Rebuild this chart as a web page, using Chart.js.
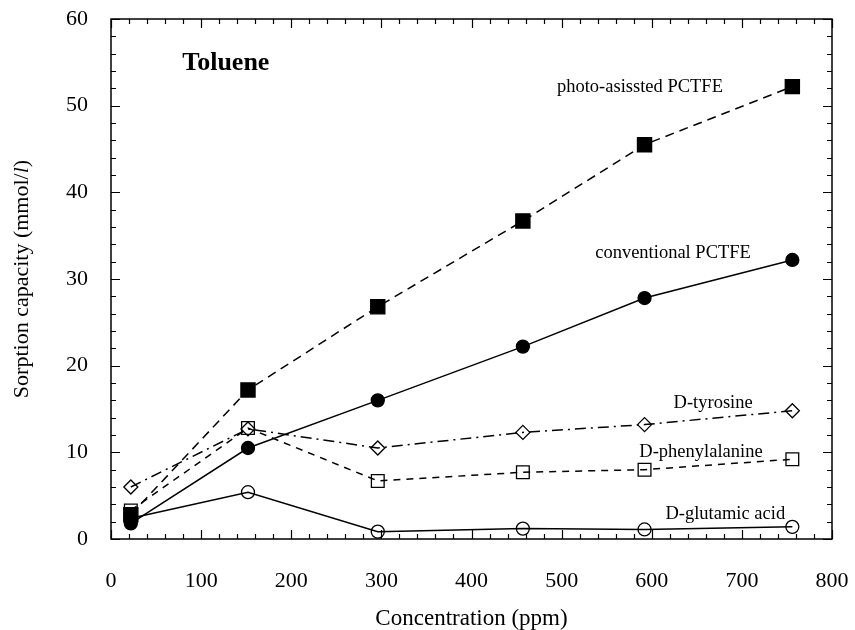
<!DOCTYPE html>
<html>
<head>
<meta charset="utf-8">
<script src="https://cdn.jsdelivr.net/npm/chart.js@4.4.1/dist/chart.umd.min.js"></script>
<style>
  html, body { margin: 0; padding: 0; background: #fff; }
  #wrap { width: 855px; height: 630px; }
</style>
</head>
<body>
<div id="wrap"><canvas id="c" width="855" height="630"></canvas></div>
<script>
// Toluene sorption capacity vs. concentration
const concentration = [22, 152, 296, 457, 592, 756];           // ppm
const photoAssisted = [2.8, 17.2, 26.8, 36.7, 45.5, 52.2];      // mmol/l
const conventional  = [1.8, 10.5, 16.0, 22.2, 27.8, 32.2];
const tyrosine      = [6.0, 12.7, 10.5, 12.3, 13.2, 14.8];
const phenylalanine = [3.3, 12.8, 6.7, 7.7, 8.0, 9.2];
const glutamic      = [2.4, 5.4, 0.85, 1.2, 1.1, 1.4];

const xTickValues = [0, 100, 200, 300, 400, 500, 600, 700, 800];
const yTickValues = [0, 10, 20, 30, 40, 50, 60];

const seriesNames = ['photo-asissted PCTFE', 'conventional PCTFE', 'D-tyrosine', 'D-phenylalanine', 'D-glutamic acid'];

const SERIF = '"Liberation Serif", "Times New Roman", serif';

function pts(ys) { return concentration.map((x, i) => ({ x: x, y: ys[i] })); }

// frame with inward major/minor ticks on all four sides
const framePlugin = {
  id: 'frame',
  afterDatasetsDraw(chart) {
    const { ctx, chartArea: a, scales: { x, y } } = chart;
    ctx.save();
    ctx.strokeStyle = '#000';
    ctx.lineWidth = 1.5;
    ctx.strokeRect(a.left, a.top, a.right - a.left, a.bottom - a.top);
    ctx.lineWidth = 1.2;
    ctx.beginPath();
    for (let v = 0; v <= 800; v += 20) {
      const px = Math.round(x.getPixelForValue(v)) + 0.5;
      const len = v % 100 === 0 ? 9 : 5;
      ctx.moveTo(px, a.bottom); ctx.lineTo(px, a.bottom - len);
      ctx.moveTo(px, a.top); ctx.lineTo(px, a.top + len);
    }
    for (let v = 0; v <= 60; v += 2) {
      const py = Math.round(y.getPixelForValue(v)) + 0.5;
      const len = v % 10 === 0 ? 9 : 5;
      ctx.moveTo(a.left, py); ctx.lineTo(a.left + len, py);
      ctx.moveTo(a.right, py); ctx.lineTo(a.right - len, py);
    }
    ctx.stroke();
    ctx.restore();
  }
};

// series names written beside their curves, plus the panel title
const labelPlugin = {
  id: 'seriesLabels',
  afterDatasetsDraw(chart) {
    const { ctx, scales: { x, y } } = chart;
    const items = [
      { t: seriesNames[0], x: 679, y: 52.15 },
      { t: seriesNames[1], x: 710, y: 33.0 },
      { t: seriesNames[2], x: 712, y: 15.7 },
      { t: seriesNames[3], x: 723, y: 10.0 },
      { t: seriesNames[4], x: 748, y: 2.9 }
    ];
    ctx.save();
    ctx.fillStyle = '#000';
    ctx.textBaseline = 'middle';
    ctx.textAlign = 'right';
    ctx.font = '18.5px ' + SERIF;
    items.forEach(it => ctx.fillText(it.t, x.getPixelForValue(it.x), y.getPixelForValue(it.y)));
    ctx.textAlign = 'left';
    ctx.font = 'bold 26px ' + SERIF;
    ctx.fillText('Toluene', x.getPixelForValue(79), y.getPixelForValue(54.9));
    ctx.restore();
  }
};

// y-axis title with italic litre symbol
const yTitlePlugin = {
  id: 'yTitle',
  afterDraw(chart) {
    const { ctx, chartArea: a } = chart;
    const parts = [
      { t: 'Sorption capacity (mmol/', f: '22px ' + SERIF },
      { t: 'l', f: 'italic 22px ' + SERIF },
      { t: ')', f: '22px ' + SERIF }
    ];
    ctx.save();
    let total = 0;
    parts.forEach(p => { ctx.font = p.f; p.w = ctx.measureText(p.t).width; total += p.w; });
    ctx.translate(22, (a.top + a.bottom) / 2);
    ctx.rotate(-Math.PI / 2);
    ctx.fillStyle = '#000';
    ctx.textBaseline = 'middle';
    ctx.textAlign = 'left';
    let cx = -total / 2;
    parts.forEach(p => { ctx.font = p.f; ctx.fillText(p.t, cx, 0); cx += p.w; });
    ctx.restore();
  }
};

const common = { showLine: true, tension: 0, borderColor: '#000', borderWidth: 1.5, pointBorderColor: '#000', pointBorderWidth: 1.3 };

new Chart(document.getElementById('c'), {
  type: 'scatter',
  data: {
    datasets: [
      Object.assign({}, common, { label: seriesNames[0], data: pts(photoAssisted), borderDash: [9, 6],
        pointStyle: 'rect', pointRadius: 10, pointBackgroundColor: '#000' }),
      Object.assign({}, common, { label: seriesNames[1], data: pts(conventional),
        pointStyle: 'circle', pointRadius: 6.5, pointBackgroundColor: '#000' }),
      Object.assign({}, common, { label: seriesNames[2], data: pts(tyrosine), borderDash: [11, 5, 2, 5],
        pointStyle: 'rectRot', pointRadius: 7, pointBackgroundColor: 'rgba(0,0,0,0)' }),
      Object.assign({}, common, { label: seriesNames[3], data: pts(phenylalanine), borderDash: [7, 6],
        pointStyle: 'rect', pointRadius: 9, pointBackgroundColor: 'rgba(0,0,0,0)' }),
      Object.assign({}, common, { label: seriesNames[4], data: pts(glutamic),
        pointStyle: 'circle', pointRadius: 6.5, pointBackgroundColor: 'rgba(0,0,0,0)' })
    ]
  },
  options: {
    responsive: false,
    animation: false,
    devicePixelRatio: 1,
    layout: { padding: { top: 19, right: 23, left: 0, bottom: 0 } },
    plugins: { legend: { display: false }, tooltip: { enabled: false } },
    scales: {
      x: {
        type: 'linear', min: 0, max: 800,
        afterFit(s) { s.height = 91; s.paddingLeft = 0; s.paddingRight = 0; },
        afterBuildTicks(s) { s.ticks = xTickValues.map(v => ({ value: v })); },
        grid: { display: false, drawTicks: false },
        border: { display: false },
        ticks: { color: '#000', padding: 29, maxRotation: 0, font: { family: SERIF, size: 22 } },
        title: { display: true, text: 'Concentration (ppm)', color: '#000',
          padding: { top: 0, bottom: 0 }, font: { family: SERIF, size: 23, lineHeight: 1.0 } }
      },
      y: {
        type: 'linear', min: 0, max: 60,
        afterFit(s) { s.width = 111; s.paddingTop = 0; s.paddingBottom = 0; },
        afterBuildTicks(s) { s.ticks = yTickValues.map(v => ({ value: v })); },
        grid: { display: false, drawTicks: false },
        border: { display: false },
        ticks: { color: '#000', padding: 23, font: { family: SERIF, size: 22 } }
      }
    }
  },
  plugins: [framePlugin, labelPlugin, yTitlePlugin]
});
</script>
</body>
</html>
